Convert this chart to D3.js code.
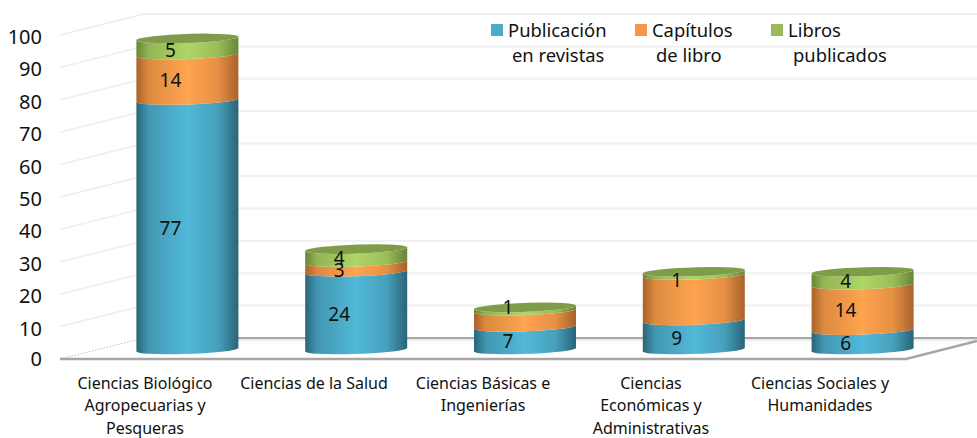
<!DOCTYPE html>
<html><head><meta charset="utf-8">
<script src="https://cdnjs.cloudflare.com/ajax/libs/d3/7.8.5/d3.min.js"></script>
<style>html,body{margin:0;padding:0;background:#fff}svg{display:block}text{font-family:"Noto Sans",sans-serif;fill:#111}</style>
</head><body><svg id="c" width="977" height="438"></svg>
<script>
const categories=[["Ciencias Biológico","Agropecuarias y","Pesqueras"],["Ciencias de la Salud"],["Ciencias Básicas e","Ingenierías"],["Ciencias","Económicas y","Administrativas"],["Ciencias Sociales y","Humanidades"]];
const revistas=[77,24,7,9,6];
const capitulos=[14,3,5,14,14];
const libros=[5,4,1,1,4];
const capLabels=[14,3,null,null,14];
const seriesNames=[["Publicación","en revistas"],["Capítulos","de libro"],["Libros","publicados"]];
const tickValues=[0,10,20,30,40,50,60,70,80,90,100];
const palette=[{e:"#2a6478",m:"#52b9d8",l:"#4bacc6"},{e:"#a8622a",m:"#ffa44f",l:"#f79646"},{e:"#6a8438",m:"#afd667",l:"#9bbb59"}];
const capColor="#7f9c4a";
const W=977,H=438;
const svg=d3.select("#c");
const yFront=d3.scaleLinear().domain([0,100]).range([359,35]);
const yBack=d3.scaleLinear().domain([0,100]).range([338,14]);
const yBar=d3.scaleLinear().domain([0,100]).range([349.5,25.5]);
const x=d3.scaleBand().domain(d3.range(5)).range([103,947]);
const bw=102,rx=51,ry=4.5,tilt=3;
const defs=svg.append("defs");
palette.forEach((p,i)=>{const g=defs.append("linearGradient").attr("id","g"+i);
 [[0,p.e],[.12,d3.interpolateRgb(p.e,p.m)(.6)],[.5,p.m],[.8,d3.interpolateRgb(p.e,p.m)(.7)],[1,p.e]].forEach(s=>g.append("stop").attr("offset",s[0]).attr("stop-color",s[1]));
});
// walls
const ln=d3.line();
tickValues.forEach(v=>{
 if(v>0){svg.append("path").attr("d",ln([[60,yFront(v)],[144,yBack(v)],[W,yBack(v)]])).attr("fill","none").attr("stroke","#f0f0f0").attr("stroke-width",2);}
});
// floor
svg.append("path").attr("d",ln([[144,yBack(0)],[W,yBack(0)]])).attr("stroke","#a6a6a6").attr("stroke-width",2).attr("fill","none");
svg.append("path").attr("d",ln([[144,yBack(0)+2],[W,yBack(0)+2]])).attr("stroke","#e4e4e4").attr("stroke-width",1.5).attr("fill","none");
svg.append("path").attr("d",ln([[60,yFront(0)],[144,yBack(0)]])).attr("stroke","#bdbdbd").attr("stroke-dasharray","1.5 1.5").attr("fill","none");
svg.append("path").attr("d",ln([[60,yFront(0)],[906,yFront(0)],[977,341]])).attr("stroke","#a6a6a6").attr("stroke-width",2.5).attr("fill","none");
// tick labels via axis
const axis=d3.axisLeft(yFront).tickValues(tickValues).tickSize(0).tickPadding(0);
const ag=svg.append("g").attr("transform","translate(42,0)").call(axis);
ag.select(".domain").remove();
ag.selectAll("text").attr("font-size",20).attr("dy",(d)=>d===0?"0.32em":"0.42em").style("font-family",'"Noto Sans",sans-serif').attr("fill","#111");
// bars
function sidePath(cx,yb,yt){
 const L=cx-bw/2,R=cx+bw/2;
 return `M${L},${yt+tilt/2}A${rx},${ry} -2 0 0 ${R},${yt-tilt/2}L${R},${yb-tilt/2}A${rx},${ry} -2 0 1 ${L},${yb+tilt/2}Z`;
}
function capPath(cx,y){const L=cx-bw/2,R=cx+bw/2;
 return `M${L},${y+tilt/2}A${rx},${ry} -2 0 1 ${R},${y-tilt/2}A${rx},${ry} -2 0 1 ${L},${y+tilt/2}Z`;}
const stacks=[revistas,capitulos,libros];
const labels=[revistas,capLabels,libros];
const libroNudge=[0,-1,-5,4,0];
categories.forEach((c,i)=>{
 const cx=x(i)+x.bandwidth()/2;
 let acc=0;
 const mids=[];
 stacks.forEach((s,k)=>{
  const a=acc,b=acc+s[i];acc=b;
  svg.append("path").attr("d",sidePath(cx,yBar(a),yBar(b))).attr("fill",`url(#g${k})`);
  mids.push((a+b)/2);
 });
 svg.append("path").attr("d",capPath(cx,yBar(acc))).attr("fill",capColor);
 labels.forEach((s,k)=>{ if(s[i]==null)return;
  svg.append("text").attr("x",cx-17).attr("y",yBar(mids[k])+10+(k==2?libroNudge[i]:0)).attr("text-anchor","middle").attr("font-size",19).text(s[i]);
 });
});
// categories
const catX=[145,314,483,651,820];
categories.forEach((c,i)=>{
 c.forEach((t,j)=>svg.append("text").attr("x",catX[i]).attr("y",388.5+j*22.5).attr("text-anchor","middle").attr("font-size",16).text(t));
});
// legend
const legX=[491,635,771],txtX=[508,652,788],txt2=[512,656,793];
seriesNames.forEach((n,i)=>{
 svg.append("rect").attr("x",legX[i]).attr("y",24).attr("width",12).attr("height",12).attr("fill",palette[i].l);
 svg.append("text").attr("x",txtX[i]).attr("y",36.5).attr("font-size",18.4).text(n[0]);
 svg.append("text").attr("x",txt2[i]).attr("y",62).attr("font-size",18.4).text(n[1]);
});
</script></body></html>
